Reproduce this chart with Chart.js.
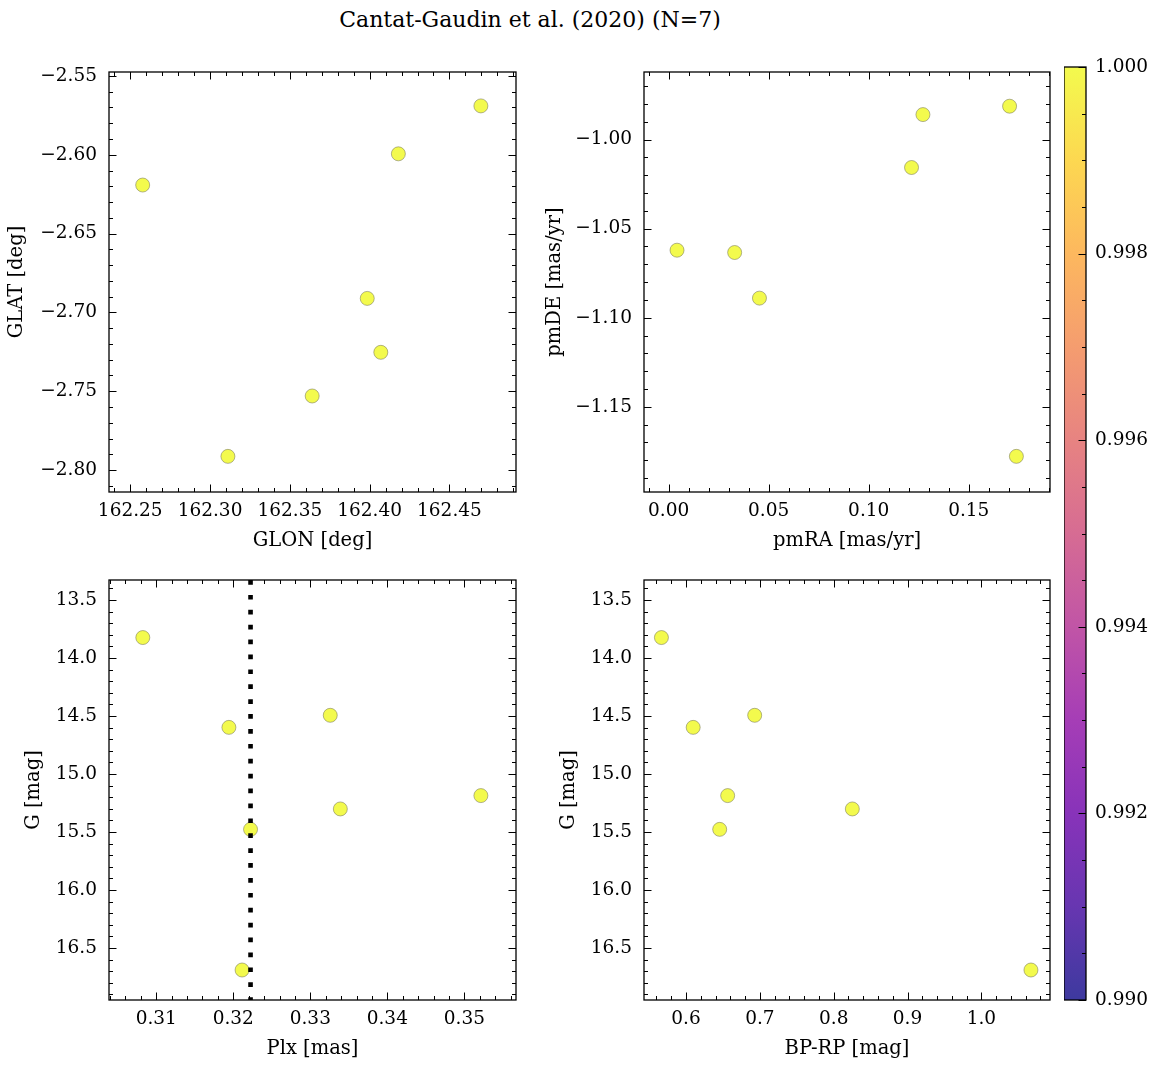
<!DOCTYPE html>
<html>
<head>
<meta charset="utf-8">
<script src="https://cdn.jsdelivr.net/npm/chart.js@4.4.1/dist/chart.umd.min.js"></script>
<style>
  body { margin: 0; background: #fff; width: 1161px; height: 1067px; position: relative; overflow: hidden; }
  canvas { position: absolute; }
  #suptitle { position: absolute; left: 0; width: 1060px; top: 7px; line-height: 26px; text-align: center;
              font-family: 'DejaVu Serif'; font-size: 22px; color: #000; }
</style>
</head>
<body>
<div id="suptitle">Cantat-Gaudin et al. (2020) (N=7)</div>
<canvas id="c1"></canvas>
<canvas id="c2"></canvas>
<canvas id="c3"></canvas>
<canvas id="c4"></canvas>
<canvas id="cbar"></canvas>
<script>
// membres de l'amas
var glon = [162.2578, 162.3112, 162.3640, 162.3985, 162.4070, 162.4180, 162.4697];
var glat = [-2.6192, -2.7913, -2.7530, -2.6911, -2.7253, -2.5994, -2.5690];
var pmra = [0.0042, 0.0330, 0.0454, 0.1214, 0.1271, 0.1704, 0.1738];
var pmde = [-1.0621, -1.0634, -1.0890, -1.0157, -0.9860, -0.9813, -1.1778];
var plx  = [0.30825, 0.33259, 0.31943, 0.35215, 0.33390, 0.32224, 0.32114];
var gmag = [13.824, 14.494, 14.598, 15.186, 15.301, 15.477, 16.689];
var bprp = [0.5667, 0.6930, 0.6097, 0.6564, 0.8252, 0.6456, 1.0671];
var proba = [1, 1, 1, 1, 1, 1, 1];

// ticks
var glonTicks = [162.25, 162.30, 162.35, 162.40, 162.45];
var glatTicks = [-2.80, -2.75, -2.70, -2.65, -2.60, -2.55];
var pmraTicks = [0.00, 0.05, 0.10, 0.15];
var pmdeTicks = [-1.15, -1.10, -1.05, -1.00];
var plxTicks  = [0.31, 0.32, 0.33, 0.34, 0.35];
var gTicks    = [13.5, 14.0, 14.5, 15.0, 15.5, 16.0, 16.5];
var bprpTicks = [0.6, 0.7, 0.8, 0.9, 1.0];
var cbarTicks = [0.990, 0.992, 0.994, 0.996, 0.998, 1.000];

// axis ranges
var glonLim = [162.2367, 162.4917];
var glatLim = [-2.8139, -2.5475];
var pmraLim = [-0.0123, 0.1906];
var pmdeLim = [-1.1978, -0.9621];
var plxLim  = [0.30386, 0.35671];
var gLim    = [13.328, 16.9475];
var bprpLim = [0.5431, 1.0929];
var cbarLim = [0.990, 1.000];

Chart.defaults.font.family = 'DejaVu Serif';
Chart.defaults.color = '#000';

// plasma
var plasma = ['#0d0887', '#41049d', '#6a00a8', '#8f0da4', '#b12a90', '#cc4778',
              '#e16462', '#f2844b', '#fca636', '#fcce25', '#f0f921'];
function hexRgb(h) { return [parseInt(h.substr(1, 2), 16), parseInt(h.substr(3, 2), 16), parseInt(h.substr(5, 2), 16)]; }
function plasmaColor(t, alpha) {
  t = Math.max(0, Math.min(1, t));
  var f = t * 10, i = Math.min(9, Math.floor(f)), u = f - i;
  var a = hexRgb(plasma[i]), b = hexRgb(plasma[i + 1]);
  var c = a.map(function (v, k) { return Math.round(v + (b[k] - v) * u); });
  return 'rgba(' + c[0] + ',' + c[1] + ',' + c[2] + ',' + alpha + ')';
}
function probColor(p) { return plasmaColor((p - cbarLim[0]) / (cbarLim[1] - cbarLim[0]), 0.8); }

function fmt(d) {
  return function (v) { return v.toFixed(d).replace('-', '\u2212'); };
}

// cadre + ticks vers l'interieur (style matplotlib)
var frameTicks = {
  id: 'frameTicks',
  afterDraw: function (chart, args, o) {
    var ctx = chart.ctx, a = chart.chartArea;
    ctx.save();
    ctx.strokeStyle = '#000';
    ctx.lineWidth = 1;
    ['x', 'y'].forEach(function (id) {
      var s = chart.scales[id];
      if (!o[id]) return;
      var vals = [];
      for (var k = Math.ceil(s.min / o[id].minor - 1e-6); k * o[id].minor <= s.max + 1e-9; k++) vals.push([k * o[id].minor, 4]);
      o[id].major.forEach(function (v) { vals.push([v, 7.5]); });
      vals.forEach(function (p) {
        var px = Math.round(s.getPixelForValue(p[0])) + 0.5;
        ctx.beginPath();
        if (id === 'x') {
          ctx.moveTo(px, a.bottom); ctx.lineTo(px, a.bottom - p[1]);
          ctx.moveTo(px, a.top); ctx.lineTo(px, a.top + p[1]);
        } else {
          if (!o.rightOnly) { ctx.moveTo(a.left, px); ctx.lineTo(a.left + p[1], px); }
          ctx.moveTo(a.right, px); ctx.lineTo(a.right - p[1], px);
        }
        ctx.stroke();
      });
    });
    ctx.lineWidth = 1.3;
    ctx.strokeRect(a.left, a.top, a.right - a.left, a.bottom - a.top);
    ctx.restore();
  }
};

var YW = 105, PT = 32, PR = 32, XH = 62;
var TICK_FS = 18.5;

function makePanel(id, p) {
  var cv = document.getElementById(id);
  var L = p.left - YW, T = p.top - PT;
  cv.width = YW + p.w + PR; cv.height = PT + p.h + XH;
  cv.style.left = L + 'px'; cv.style.top = T + 'px';
  var pts = p.xs.map(function (x, i) { return { x: x, y: p.ys[i] }; });
  var datasets = [{
    type: 'scatter',
    data: pts,
    backgroundColor: proba.map(probColor),
    borderColor: 'rgba(120,120,90,0.7)',
    borderWidth: 0.8,
    pointRadius: 7,
    order: 1
  }];
  if (p.vline !== undefined) {
    datasets.push({
      type: 'line',
      data: [{ x: p.vline, y: p.ylim[0] }, { x: p.vline, y: p.ylim[1] }],
      borderColor: '#000',
      borderWidth: 4.6,
      borderDash: [4.7, 10.2],
      borderCapStyle: 'butt',
      pointRadius: 0,
      order: 0
    });
  }
  new Chart(cv, {
    type: 'scatter',
    data: { datasets: datasets },
    options: {
      responsive: false,
      animation: false,
      layout: { padding: { left: 0, top: PT, right: PR, bottom: 0 } },
      plugins: {
        legend: { display: false },
        tooltip: { enabled: false },
        frameTicks: { x: { major: p.xt, minor: p.xminor }, y: { major: p.yt, minor: p.yminor } }
      },
      scales: {
        x: {
          type: 'linear', position: 'bottom', min: p.xlim[0], max: p.xlim[1],
          grid: { display: false, drawTicks: false }, border: { display: false },
          afterBuildTicks: function (s) { s.ticks = p.xt.map(function (v) { return { value: v }; }); },
          afterFit: function (s) { s.height = XH; },
          ticks: { font: { size: TICK_FS }, padding: 8, maxRotation: 0, autoSkip: false, callback: fmt(p.xd) },
          title: { display: true, text: p.xl, font: { size: 19.5 }, padding: { top: 0, bottom: 1.8 } }
        },
        y: {
          type: 'linear', position: 'left', min: p.ylim[0], max: p.ylim[1], reverse: !!p.rev,
          grid: { display: false, drawTicks: false }, border: { display: false },
          afterBuildTicks: function (s) { s.ticks = p.yt.map(function (v) { return { value: v }; }); },
          afterFit: function (s) { s.width = YW; },
          ticks: { font: { size: TICK_FS }, padding: 12, autoSkip: false, callback: fmt(p.yd) },
          title: { display: true, text: p.yl, font: { size: 19.5 }, padding: { top: p.titleX - L - 11.7, bottom: 0 } }
        }
      }
    },
    plugins: [frameTicks]
  });
}

makePanel('c1', { left: 109, top: 72, w: 407, h: 420, titleX: 17.4,
  xs: glon, ys: glat, xlim: glonLim, ylim: glatLim, xt: glonTicks, yt: glatTicks,
  xminor: 0.01, yminor: 0.01, xd: 2, yd: 2, xl: 'GLON [deg]', yl: 'GLAT [deg]' });
makePanel('c2', { left: 644, top: 72, w: 406, h: 420, titleX: 555,
  xs: pmra, ys: pmde, xlim: pmraLim, ylim: pmdeLim, xt: pmraTicks, yt: pmdeTicks,
  xminor: 0.01, yminor: 0.01, xd: 2, yd: 2, xl: 'pmRA [mas/yr]', yl: 'pmDE [mas/yr]' });

// ligne pointillee a la mediane de la parallaxe
var plxSorted = plx.slice().sort(function (a, b) { return a - b; });
var plxMedian = plxSorted[Math.floor(plxSorted.length / 2)];

makePanel('c3', { left: 109, top: 580, w: 407, h: 420, titleX: 33.8, rev: true, vline: plxMedian,
  xs: plx, ys: gmag, xlim: plxLim, ylim: gLim, xt: plxTicks, yt: gTicks,
  xminor: 0.002, yminor: 0.1, xd: 2, yd: 1, xl: 'Plx [mas]', yl: 'G [mag]' });
makePanel('c4', { left: 644, top: 580, w: 406, h: 420, titleX: 568.7, rev: true,
  xs: bprp, ys: gmag, xlim: bprpLim, ylim: gLim, xt: bprpTicks, yt: gTicks,
  xminor: 0.02, yminor: 0.1, xd: 1, yd: 1, xl: 'BP-RP [mag]', yl: 'G [mag]' });

// barre de couleur
var cb = document.getElementById('cbar');
var CBW = 22, CBH = 933, CBL = 75;
cb.width = CBW + CBL; cb.height = PT + CBH + PT;
cb.style.left = '1064px'; cb.style.top = (67 - PT) + 'px';
var cbarFill = {
  id: 'cbarFill',
  beforeDatasetsDraw: function (chart) {
    var ctx = chart.ctx, a = chart.chartArea;
    var g = ctx.createLinearGradient(0, a.bottom, 0, a.top);
    plasma.forEach(function (c, i) { g.addColorStop(i / (plasma.length - 1), c); });
    ctx.save();
    ctx.globalAlpha = 0.8;
    ctx.fillStyle = g;
    ctx.fillRect(a.left, a.top, a.right - a.left, a.bottom - a.top);
    ctx.restore();
  }
};
new Chart(cb, {
  type: 'scatter',
  data: { datasets: [{ data: [] }] },
  options: {
    responsive: false,
    animation: false,
    layout: { padding: { left: 0, top: PT, right: 0, bottom: PT } },
    plugins: {
      legend: { display: false },
      tooltip: { enabled: false },
      frameTicks: { rightOnly: true, y: { major: cbarTicks, minor: 0.0005 } }
    },
    scales: {
      x: { display: false, min: 0, max: 1 },
      y: {
        type: 'linear', position: 'right', min: cbarLim[0], max: cbarLim[1],
        grid: { display: false, drawTicks: false }, border: { display: false },
        afterBuildTicks: function (s) { s.ticks = cbarTicks.map(function (v) { return { value: v }; }); },
        afterFit: function (s) { s.width = CBL; },
        ticks: { font: { size: TICK_FS }, padding: 9, autoSkip: false, callback: fmt(3) }
      }
    }
  },
  plugins: [cbarFill, frameTicks]
});
</script>
</body>
</html>
